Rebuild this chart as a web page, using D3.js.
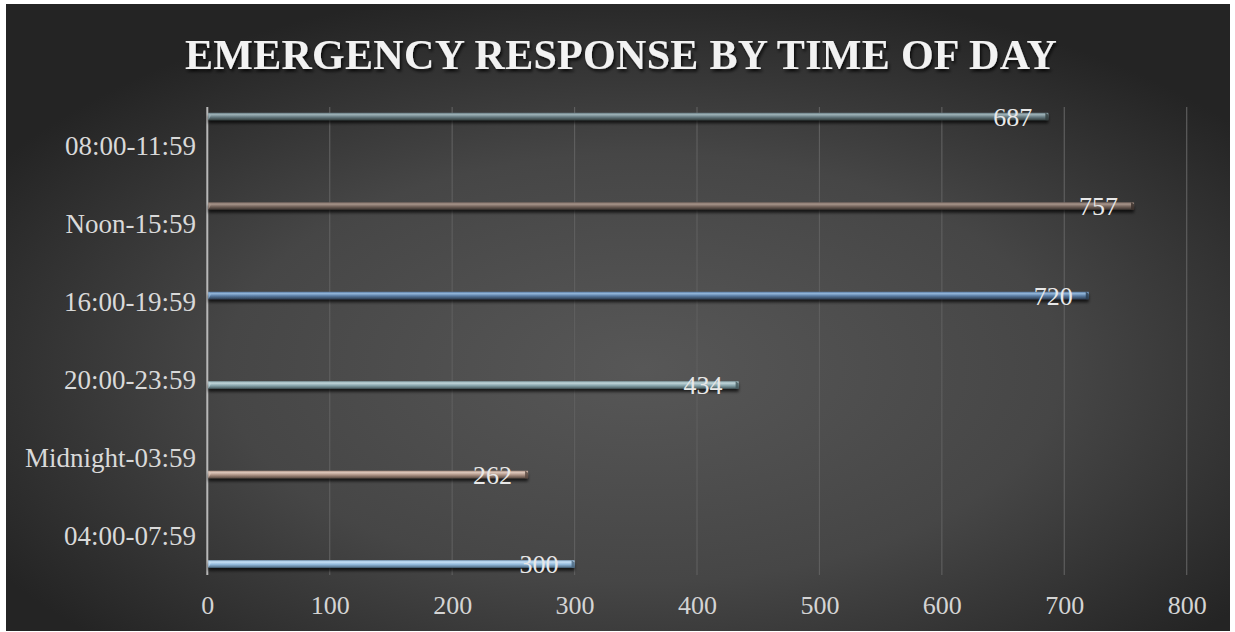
<!DOCTYPE html>
<html>
<head>
<meta charset="utf-8">
<script src="https://cdn.jsdelivr.net/npm/d3@7"></script>
<style>
  html, body { margin: 0; padding: 0; background: #ffffff; }
  svg { display: block; }
  text { font-family: "Liberation Serif", "DejaVu Serif", serif; }
</style>
</head>
<body>
<svg id="chart" width="1235" height="632"></svg>
<script>
// Time-of-day buckets, listed top to bottom as drawn
const categories = ["08:00-11:59", "Noon-15:59", "16:00-19:59", "20:00-23:59", "Midnight-03:59", "04:00-07:59"];
// Number of emergency responses in each bucket
const responses = [687, 757, 720, 434, 262, 300];
// X axis tick values
const xTicks = [0, 100, 200, 300, 400, 500, 600, 700, 800];
// Tube colours per bar: [highlight, body, shade]
const barColors = [
  ["#9db1b6", "#687d84", "#34403f"],
  ["#a69489", "#77675f", "#3a302c"],
  ["#93b6da", "#5a7ca4", "#2c3e52"],
  ["#c0d4d8", "#8ca9b0", "#465a5e"],
  ["#dcc6ba", "#ae9486", "#5a4a42"],
  ["#c4def3", "#94bbdd", "#4d6a82"]
];

const svg = d3.select("#chart");
const W = 1235, H = 632;
const defs = svg.append("defs");

// Chart background: dark radial vignette
const bg = defs.append("radialGradient").attr("id", "bgGrad")
  .attr("cx", "0.52").attr("cy", "0.58").attr("r", "0.62");
bg.append("stop").attr("offset", "0").attr("stop-color", "#575757");
bg.append("stop").attr("offset", "0.55").attr("stop-color", "#464646");
bg.append("stop").attr("offset", "1").attr("stop-color", "#242424");

svg.append("rect").attr("width", W).attr("height", H).attr("fill", "#ffffff");
svg.append("rect").attr("x", 6).attr("y", 4).attr("width", 1224).attr("height", 627)
  .attr("fill", "url(#bgGrad)");

// Soft shadow for bars and title
const sh = defs.append("filter").attr("id", "barShadow")
  .attr("x", "-5%").attr("y", "-100%").attr("width", "110%").attr("height", "400%");
sh.append("feDropShadow").attr("dx", 0).attr("dy", 3).attr("stdDeviation", 1.6)
  .attr("flood-color", "#000").attr("flood-opacity", 0.7);

const tsh = defs.append("filter").attr("id", "titleShadow")
  .attr("x", "-5%").attr("y", "-30%").attr("width", "110%").attr("height", "160%");
tsh.append("feDropShadow").attr("dx", 1.5).attr("dy", 2.5).attr("stdDeviation", 1.5)
  .attr("flood-color", "#000").attr("flood-opacity", 0.8);

barColors.forEach((c, i) => {
  const g = defs.append("linearGradient").attr("id", "tube" + i)
    .attr("x1", 0).attr("y1", 0).attr("x2", 0).attr("y2", 1);
  g.append("stop").attr("offset", "0").attr("stop-color", c[1]);
  g.append("stop").attr("offset", "0.25").attr("stop-color", c[0]);
  g.append("stop").attr("offset", "0.55").attr("stop-color", c[1]);
  g.append("stop").attr("offset", "1").attr("stop-color", c[2]);
});

// Scales
const x = d3.scaleLinear().domain([0, 800]).range([207.3, 1186.7]);
const yLabel = d3.scaleBand().domain(categories).range([107, 575]);
const yBar = d3.scalePoint().domain(categories).range([116.5, 564]);
const plotTop = 107, plotBottom = 575;

// Title
svg.append("text")
  .attr("x", 621).attr("y", 69)
  .attr("text-anchor", "middle")
  .attr("font-size", 42).attr("font-weight", "bold")
  .attr("letter-spacing", 0.3)
  .attr("fill", "#f2f2f2")
  .attr("filter", "url(#titleShadow)")
  .text("EMERGENCY RESPONSE BY TIME OF DAY");

// Vertical gridlines
svg.append("g").selectAll("line").data(xTicks.filter(d => d > 0)).join("line")
  .attr("x1", d => x(d)).attr("x2", d => x(d))
  .attr("y1", plotTop).attr("y2", plotBottom)
  .attr("stroke", "#5e5e5e").attr("stroke-width", 1.2);

// X axis tick labels
const xAxis = d3.axisBottom(x).tickValues(xTicks).tickSize(0).tickPadding(0);
const gx = svg.append("g").attr("transform", `translate(0, ${plotBottom + 21})`).call(xAxis);
gx.select(".domain").remove();
gx.selectAll("text")
  .attr("font-family", "Liberation Serif, serif")
  .attr("font-size", 26).attr("fill", "#d4d4d4").attr("dy", "0.71em").attr("y", 0);

// Category labels
const yAxis = d3.axisLeft(yLabel).tickSize(0).tickPadding(0);
const gy = svg.append("g").attr("transform", "translate(196, 0)").call(yAxis);
gy.select(".domain").remove();
gy.selectAll("text")
  .attr("font-family", "Liberation Serif, serif")
  .attr("font-size", 27).attr("fill", "#d9d9d9").attr("dy", "0.32em").attr("x", 0);

// Vertical axis line
svg.append("line")
  .attr("x1", x(0)).attr("x2", x(0)).attr("y1", plotTop).attr("y2", plotBottom)
  .attr("stroke", "#b8b8b8").attr("stroke-width", 2);

// Bars drawn as thin tubes
const barH = 7.5;
const bars = svg.append("g").selectAll("g").data(categories).join("g");
bars.append("rect")
  .attr("x", x(0) + 1)
  .attr("y", (d) => yBar(d) - barH / 2)
  .attr("width", (d, i) => x(responses[i]) - x(0) - 1)
  .attr("height", barH)
  .attr("fill", (d, i) => `url(#tube${i})`)
  .attr("filter", "url(#barShadow)");
// Bevelled end caps
bars.append("path")
  .attr("d", (d, i) => {
    const xe = x(responses[i]), yc = yBar(d);
    return `M${xe - 3},${yc - barH / 2} L${xe},${yc - barH / 2 + 2} L${xe},${yc + barH / 2} L${xe - 3},${yc + barH / 2} Z`;
  })
  .attr("fill", (d, i) => barColors[i][2]).attr("opacity", 0.85);
bars.append("path")
  .attr("d", (d, i) => {
    const yc = yBar(d);
    return `M${x(0) + 1},${yc - barH / 2} L${x(0) + 4},${yc - barH / 2 + 2} L${x(0) + 1},${yc + barH / 2} Z`;
  })
  .attr("fill", (d, i) => barColors[i][0]).attr("opacity", 0.7);

// Value labels, placed inside the bar end
bars.append("text")
  .attr("x", (d, i) => x(responses[i]) - 16)
  .attr("y", (d) => yBar(d) + 9)
  .attr("text-anchor", "end")
  .attr("font-size", 26)
  .attr("fill", "#e8e8e8")
  .text((d, i) => responses[i]);
</script>
</body>
</html>
